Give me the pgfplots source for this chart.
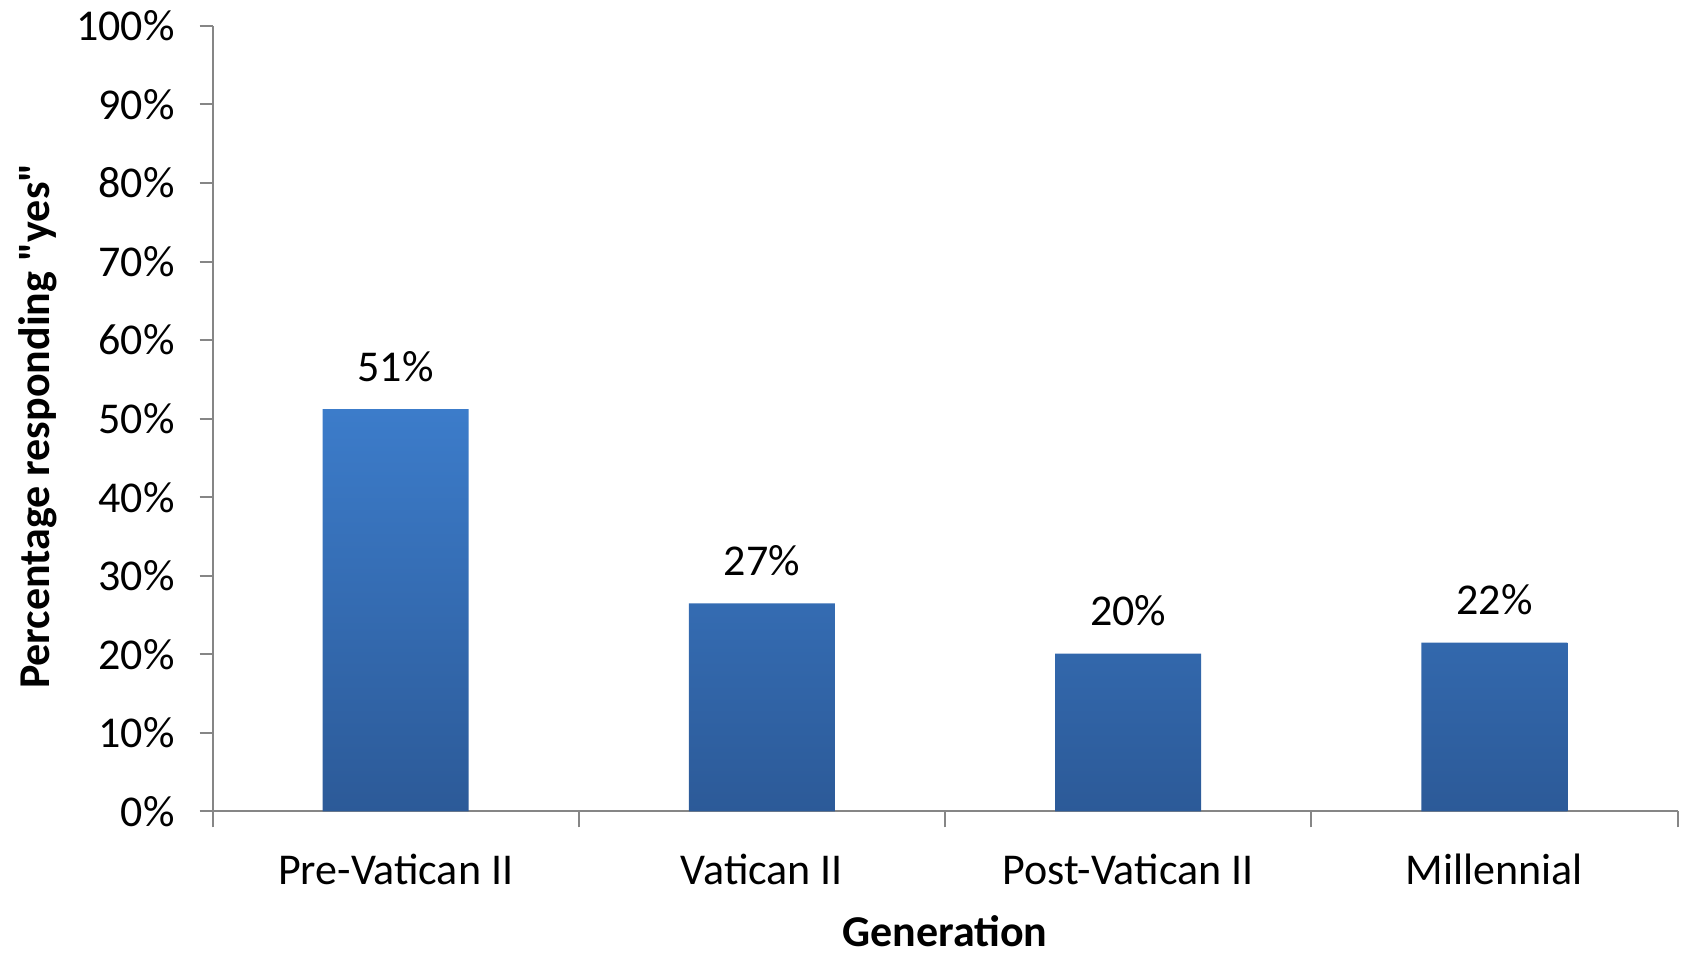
\documentclass[border=0pt]{standalone}
\usepackage{pgfplots}
\pgfplotsset{compat=1.18}
\usepackage{fontspec}
\setmainfont{Carlito}[Ligatures=TeXOff]
\definecolor{axisgray}{RGB}{134,134,134}
\definecolor{bartop}{RGB}{60,124,202}
\definecolor{barbot}{RGB}{44,90,152}
\begin{document}
\begin{tikzpicture}
  \begin{axis}[
    scale only axis,
    width=732.5pt, height=392.8pt,
    xmin=0.5, xmax=4.5,
    ymin=0, ymax=100,
    axis lines*=left,
    axis line style={axisgray, line width=1pt},
    every tick/.style={axisgray, line width=1pt},
    tick align=outside,
    xtick={1,2,3,4},
    xticklabels={Pre-Vatican II, Vatican II, Post-Vatican II, Millennial},
    major x tick style={draw=none},
    minor xtick={0.5,1.5,2.5,3.5,4.5},
    minor tick length=8pt,
    ytick={0,10,...,100},
    major tick length=6.5pt,
    /pgf/number format/assume math mode=true,
    yticklabel={\pgfmathprintnumber{\tick}\%},
    ticklabel style={font=\fontsize{22}{26}\selectfont},
    xticklabel style={anchor=center, yshift=-22.3pt},
    yticklabel style={anchor=east, inner sep=0pt, xshift=-12.3pt},
    label style={font=\fontsize{22}{26}\selectfont\bfseries},
    xlabel={Generation},
    xlabel style={at={(axis description cs:0.5,0)}, anchor=center, yshift=-60pt},
    ylabel={Percentage responding "yes"},
    ylabel style={at={(axis description cs:0,0.4906)}, anchor=center, yshift=87.5pt},
    clip=false,
  ]
    \addplot[ybar, bar width=73pt, draw=none, top color=bartop, bottom color=barbot,
      point meta=explicit symbolic,
      nodes near coords,
      every node near coord/.append style={font=\fontsize{22}{26}\selectfont, anchor=center, yshift=21.5pt, text=black}]
      coordinates {
        (1,51.2) [51\%]
        (2,26.5) [27\%]
        (3,20.1) [20\%]
        (4,21.5) [22\%]
      };
  \end{axis}
  \pgfresetboundingbox
  \path[use as bounding box] ([xshift=-106.25pt, yshift=-71.8pt]current axis.south west)
    rectangle ([xshift=2.7pt, yshift=12.9pt]current axis.north east);
\end{tikzpicture}
\end{document}
